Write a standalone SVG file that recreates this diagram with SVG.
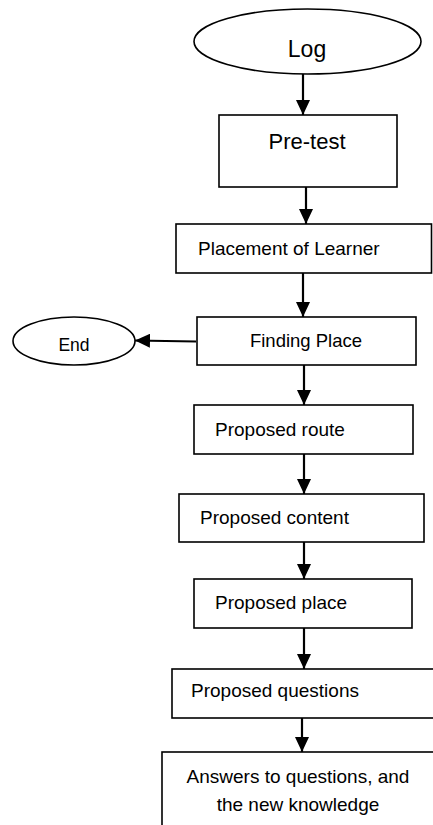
<svg xmlns="http://www.w3.org/2000/svg" width="433" height="825" viewBox="0 0 433 825">
<style>
.box{fill:#fff;stroke:#000;stroke-width:1.6}
.t{font-family:"Liberation Sans",Arial,sans-serif;font-size:19px;fill:#000}
.c{text-anchor:middle}
.conn line{stroke:#000;stroke-width:2.2}
</style>
<defs>
<marker id="ah" markerUnits="userSpaceOnUse" markerWidth="16" markerHeight="14" refX="15" refY="7" orient="auto">
<path d="M0,0 L15,7 L0,14 z" fill="#000"/>
</marker>
</defs>
<g id="log"><ellipse class="box" cx="307.5" cy="41.5" rx="113.5" ry="32.5"/><text class="t c" x="307" y="57" style="font-size:23px">Log</text></g>
<g id="pretest"><rect class="box" x="219" y="115" width="178" height="72"/><text class="t c" x="307" y="149" style="font-size:22px">Pre-test</text></g>
<g id="placement"><rect class="box" x="176" y="224" width="255.5" height="49"/><text class="t" x="198" y="255">Placement of Learner</text></g>
<g id="end"><ellipse class="box" cx="74" cy="341" rx="61" ry="24"/><text class="t c" x="74" y="351" style="font-size:17.5px">End</text></g>
<g id="finding"><rect class="box" x="197" y="317" width="219" height="48"/><text class="t c" x="306" y="347" style="font-size:18.5px">Finding Place</text></g>
<g id="route"><rect class="box" x="194" y="405" width="219" height="49"/><text class="t" x="215" y="436">Proposed route</text></g>
<g id="content"><rect class="box" x="179" y="494" width="245" height="48"/><text class="t" x="200" y="524">Proposed content</text></g>
<g id="place"><rect class="box" x="194" y="579" width="218" height="49"/><text class="t" x="215" y="609">Proposed place</text></g>
<g id="questions"><rect class="box" x="172" y="669" width="270" height="49"/><text class="t" x="191" y="697">Proposed questions</text></g>
<g id="answers"><rect class="box" x="162" y="752" width="280" height="90"/><text class="t c" x="298" y="783">Answers to questions, and</text><text class="t c" x="298" y="811">the new knowledge</text></g>
<g id="connectors" class="conn">
<line x1="303" y1="74" x2="303" y2="115" marker-end="url(#ah)"/>
<line x1="306" y1="187" x2="306" y2="224" marker-end="url(#ah)"/>
<line x1="303" y1="273" x2="303" y2="317" marker-end="url(#ah)"/>
<line x1="196" y1="341.5" x2="135" y2="340.5" marker-end="url(#ah)"/>
<line x1="304" y1="365" x2="304" y2="405" marker-end="url(#ah)"/>
<line x1="304" y1="454" x2="304" y2="494" marker-end="url(#ah)"/>
<line x1="304" y1="542" x2="304" y2="579" marker-end="url(#ah)"/>
<line x1="304" y1="628" x2="304" y2="669" marker-end="url(#ah)"/>
<line x1="302" y1="718" x2="302" y2="752" marker-end="url(#ah)"/>
</g>
</svg>
